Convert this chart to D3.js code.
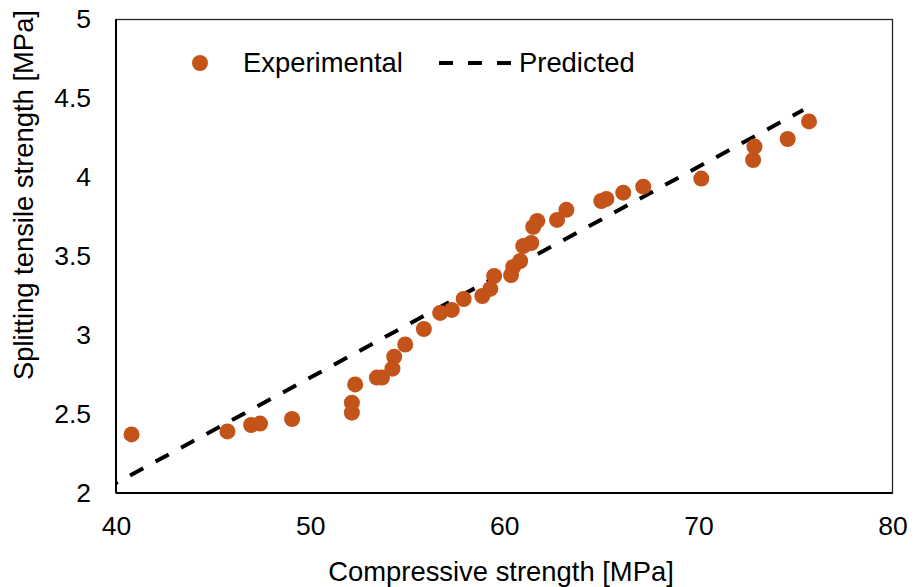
<!DOCTYPE html>
<html>
<head>
<meta charset="utf-8">
<script src="https://cdnjs.cloudflare.com/ajax/libs/d3/7.8.5/d3.min.js"></script>
<style>
  body { margin: 0; background: #fff; }
  text { font-family: "Liberation Sans", Arial, sans-serif; fill: #000; }
</style>
</head>
<body>
<div class="chart"></div>
<script>
var svgWidth = 918;
var svgHeight = 587;

var margin = {
  top: 19.5,
  right: 25.5,
  bottom: 94,
  left: 116
};

var width = svgWidth - margin.left - margin.right;
var height = svgHeight - margin.top - margin.bottom;

// Data
var compressive = [40.80, 45.74, 46.96, 47.42, 49.07, 52.15, 52.15, 52.32, 53.44, 53.70,
  54.24, 54.33, 54.90, 55.86, 56.70, 57.30, 57.91, 58.87, 59.28, 59.48,
  60.35, 60.46, 60.82, 60.98, 61.39, 61.49, 61.70, 62.72, 63.20, 65.00,
  65.26, 66.13, 67.16, 70.15, 72.82, 72.89, 74.60, 75.70];
var splitting = [2.371, 2.390, 2.431, 2.440, 2.469, 2.509, 2.572, 2.688, 2.731, 2.731,
  2.788, 2.864, 2.941, 3.039, 3.141, 3.160, 3.229, 3.248, 3.293, 3.375,
  3.381, 3.432, 3.470, 3.565, 3.584, 3.686, 3.724, 3.730, 3.794, 3.850,
  3.863, 3.903, 3.941, 3.992, 4.110, 4.195, 4.243, 4.354];

var predictedX = [40, 75.4];
var predictedY = [2.063, 4.427];

var xTicks = [40, 50, 60, 70, 80];
var yTicks = [2, 2.5, 3, 3.5, 4, 4.5, 5];

var pointColor = "#c4531a";

var svg = d3.select(".chart")
  .append("svg")
  .attr("width", svgWidth)
  .attr("height", svgHeight);

var chartGroup = svg.append("g")
  .attr("transform", `translate(${margin.left}, ${margin.top})`);

// Step 1: scales
var xLinearScale = d3.scaleLinear()
  .domain([40, 80])
  .range([0, width]);

var yLinearScale = d3.scaleLinear()
  .domain([2, 5])
  .range([height, 0]);

// Step 2: axes (labels only, no tick marks)
var bottomAxis = d3.axisBottom(xLinearScale)
  .tickValues(xTicks)
  .tickSize(0)
  .tickPadding(23)
  .tickFormat(d3.format("d"));
var leftAxis = d3.axisLeft(yLinearScale)
  .tickValues(yTicks)
  .tickSize(0)
  .tickPadding(25)
  .tickFormat(d => d);

var xAxisG = chartGroup.append("g")
  .attr("transform", `translate(0, ${height})`)
  .call(bottomAxis);
var yAxisG = chartGroup.append("g")
  .call(leftAxis);

[xAxisG, yAxisG].forEach(function(g) {
  g.select(".domain").remove();
  g.selectAll("text")
    .style("font-size", "26.5px")
    .style("font-family", "'Liberation Sans', Arial, sans-serif")
    .attr("fill", "#000");
});

// plot frame
chartGroup.append("rect")
  .attr("x", 0)
  .attr("y", 0)
  .attr("width", width)
  .attr("height", height)
  .attr("fill", "none")
  .attr("stroke", "#262626")
  .attr("stroke-width", 1.3);

chartGroup.append("line")
  .attr("x1", 0).attr("x2", width)
  .attr("y1", height).attr("y2", height)
  .attr("stroke", "#000")
  .attr("stroke-width", 2);
chartGroup.append("line")
  .attr("x1", 0).attr("x2", 0)
  .attr("y1", 0).attr("y2", height)
  .attr("stroke", "#000")
  .attr("stroke-width", 2);

// Step 3: predicted line
var lineData = predictedX.map((x, i) => ({x: x, y: predictedY[i]}));
var line = d3.line()
  .x(d => xLinearScale(d.x))
  .y(d => yLinearScale(d.y));

chartGroup.append("path")
  .datum(lineData)
  .attr("d", line)
  .attr("fill", "none")
  .attr("stroke", "#000")
  .attr("stroke-width", 4)
  .attr("stroke-dasharray", "15,14")
  .attr("stroke-dashoffset", 13);

// Step 4: experimental points
var pointData = compressive.map((x, i) => ({x: x, y: splitting[i]}));
chartGroup.selectAll("circle.pt")
  .data(pointData)
  .enter()
  .append("circle")
  .attr("class", "pt")
  .attr("cx", d => xLinearScale(d.x))
  .attr("cy", d => yLinearScale(d.y))
  .attr("r", 8)
  .attr("fill", pointColor);

// Step 5: legend
var legend = svg.append("g");
legend.append("circle")
  .attr("cx", 200)
  .attr("cy", 63)
  .attr("r", 8)
  .attr("fill", pointColor);
legend.append("text")
  .attr("x", 243)
  .attr("y", 72)
  .style("font-size", "27.4px")
  .text("Experimental");
legend.append("line")
  .attr("x1", 439).attr("x2", 512)
  .attr("y1", 63).attr("y2", 63)
  .attr("stroke", "#000")
  .attr("stroke-width", 4)
  .attr("stroke-dasharray", "14,15");
legend.append("text")
  .attr("x", 519)
  .attr("y", 72)
  .style("font-size", "27.4px")
  .text("Predicted");

// Step 6: axis titles
svg.append("text")
  .attr("x", 501)
  .attr("y", 581)
  .attr("text-anchor", "middle")
  .style("font-size", "27.4px")
  .text("Compressive strength [MPa]");

svg.append("text")
  .attr("transform", "translate(33, 195) rotate(-90)")
  .attr("text-anchor", "middle")
  .style("font-size", "27.4px")
  .text("Splitting tensile strength [MPa]");
</script>
</body>
</html>
